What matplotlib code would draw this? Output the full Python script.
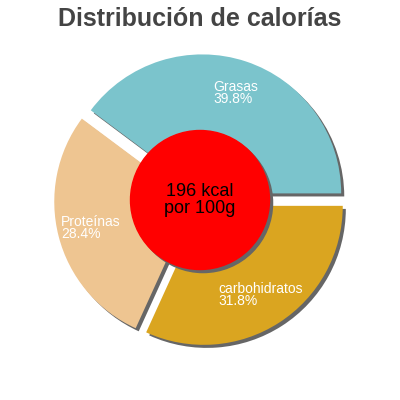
import matplotlib
matplotlib.use('Agg')
import matplotlib.pyplot as plt
from matplotlib.patches import Circle

plt.rcParams['font.family'] = ['Liberation Sans', 'DejaVu Sans']

# data
categories = ['Grasas', 'Proteínas', 'carbohidratos']
percentages = [39.8, 28.4, 31.8]
colors = ['#7bc4cc', '#eec591', '#daa520']
kcal = 196

W, H = 400, 400
R_PX = 139.0  # pie radius in pixels
cx_px, cy_px = 200, 200

fig = plt.figure(figsize=(W / 100, H / 100), dpi=100)
ax = fig.add_axes([0, 0, 1, 1])

explode = [0.05] * len(percentages)
shadow_off = (0.022, -0.022)

# shadow pass
ax.pie(percentages, explode=explode, colors=['#666666'] * 3, startangle=0,
       counterclock=True, radius=1, center=shadow_off, frame=True)

labels = [f'{c}\n{p:.1f}%' for c, p in zip(categories, percentages)]
wedges, texts = ax.pie(percentages, explode=explode, colors=colors, startangle=0,
                       counterclock=True, radius=1, labels=labels,
                       labeldistance=0.76, frame=True,
                       textprops=dict(color='white', fontsize=10, linespacing=0.85))
for t in texts:
    t.set_ha('center')
    t.set_va('center')
    t.set_multialignment('left')

ax.set_xlim(-cx_px / R_PX, (W - cx_px) / R_PX)
ax.set_ylim(-(H - cy_px) / R_PX, cy_px / R_PX)
ax.set_aspect('equal')
ax.axis('off')

# center disc with shadow
ax.add_patch(Circle(shadow_off, 0.5, color='#666666', zorder=5))
ax.add_patch(Circle((0, 0.0), 0.5, color='#ff0000', zorder=6))
ax.text(0, 0.0, f'{kcal} kcal\npor 100g', ha='center', va='center',
        fontsize=13, color='black', linespacing=0.95, zorder=7)

fig.text(0.5, 1 - 26 / H, 'Distribución de calorías', ha='center', va='baseline',
         fontsize=18, fontweight='bold', color='#444444')

fig.savefig('out.png', dpi=100, facecolor='white')
